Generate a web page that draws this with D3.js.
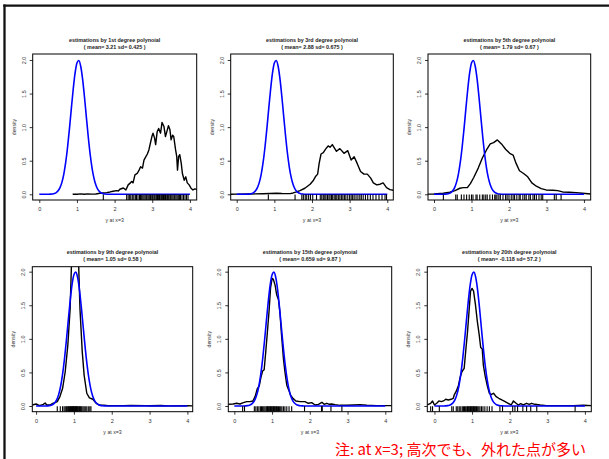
<!DOCTYPE html>
<html><head><meta charset="utf-8">
<script src="https://cdn.jsdelivr.net/npm/d3@7"></script>
<style>body{margin:0;background:#fff} svg{display:block}</style>
</head><body><svg id="chart" width="609" height="459"></svg>
<script>
// Panel titles and summary lines
const titles = [
  "estimations by 1st degree polynoial",
  "estimations by 3rd degree polynoial",
  "estimations by 5th degree polynoial",
  "estimations by 9th degree polynoial",
  "estimations by 15th degree polynoial",
  "estimations by 20th degree polynoial"
];
const subtitles = [
  "( mean= 3.21 sd= 0.425 )",
  "( mean= 2.88 sd= 0.675 )",
  "( mean= 1.79 sd= 0.67 )",
  "( mean= 1.05 sd= 0.58 )",
  "( mean= 0.659 sd= 9.87 )",
  "( mean= -0.118 sd= 57.2 )"
];
const xTicks = [0, 1, 2, 3, 4];
const yTicks = [0, 0.5, 1.0, 1.5, 2.0];
const xLabel = "y at x=3";
const yLabel = "density";
const note = "注: at x=3; 高次でも、外れた点が多い";

// True distribution of y at x=3 (blue reference density)
const trueX = [0, 0.25, 0.3, 0.35, 0.4, 0.45, 0.5, 0.55, 0.6, 0.65, 0.7, 0.75, 0.8, 0.85, 0.9, 0.95, 1.0, 1.05, 1.1, 1.15, 1.2, 1.25, 1.3, 1.35, 1.4, 1.45, 1.5, 1.55, 1.6, 1.65, 1.7, 1.75, 1.8, 1.85, 2.0, 4.0];
const trueY = [0, 0.0008, 0.002, 0.005, 0.012, 0.026, 0.052, 0.099, 0.177, 0.298, 0.470, 0.697, 0.971, 1.271, 1.561, 1.803, 1.955, 1.993, 1.907, 1.715, 1.449, 1.150, 0.857, 0.600, 0.395, 0.244, 0.142, 0.077, 0.040, 0.019, 0.009, 0.004, 0.0015, 0.0005, 0, 0];

// Kernel density of the estimates for each polynomial degree: [x, density]
const dens1 = [[0.886,0],[0.95,0.003],[1.0,0.001],[1.1,0.006],[1.2,0.001],[1.28,0.006],[1.4,0.002],[1.5,0.004],[1.61,0.015],[1.70,0.02],[1.79,0.025],[1.88,0.035],[1.96,0.045],[2.05,0.055],[2.10,0.05],[2.14,0.075],[2.23,0.094],[2.30,0.065],[2.36,0.14],[2.42,0.17],[2.45,0.19],[2.49,0.17],[2.54,0.29],[2.60,0.31],[2.65,0.36],[2.69,0.41],[2.74,0.39],[2.78,0.51],[2.83,0.56],[2.87,0.60],[2.91,0.66],[2.95,0.76],[2.99,0.86],[3.02,0.91],[3.06,0.84],[3.09,0.74],[3.13,0.93],[3.17,0.98],[3.22,0.91],[3.26,1.07],[3.31,1.01],[3.35,0.86],[3.40,0.96],[3.43,1.02],[3.47,0.96],[3.50,0.81],[3.54,0.88],[3.57,0.86],[3.62,0.66],[3.65,0.56],[3.67,0.36],[3.70,0.56],[3.73,0.59],[3.77,0.46],[3.80,0.31],[3.85,0.21],[3.89,0.26],[3.93,0.17],[3.98,0.14],[4.03,0.09],[4.08,0.065],[4.13,0.08],[4.2,0.07]];
const dens2 = [[-0.16,0.0],[0.0,0.002],[0.35,0.005],[0.7,0.008],[1.06,0.015],[1.2,0.012],[1.42,0.01],[1.5,0.02],[1.59,0.035],[1.68,0.055],[1.81,0.09],[1.95,0.15],[2.04,0.21],[2.10,0.27],[2.15,0.30],[2.19,0.46],[2.24,0.60],[2.30,0.62],[2.37,0.68],[2.43,0.72],[2.48,0.70],[2.54,0.74],[2.65,0.64],[2.74,0.68],[2.85,0.61],[2.95,0.65],[3.04,0.51],[3.12,0.56],[3.20,0.46],[3.29,0.34],[3.38,0.30],[3.47,0.30],[3.56,0.24],[3.63,0.17],[3.72,0.14],[3.81,0.15],[3.89,0.17],[3.98,0.10],[4.07,0.07],[4.16,0.06]];
const dens3 = [[-0.16,0.002],[0.0,0.005],[0.25,0.015],[0.42,0.03],[0.56,0.055],[0.69,0.09],[0.78,0.10],[0.89,0.10],[0.97,0.16],[1.06,0.25],[1.18,0.39],[1.29,0.54],[1.40,0.66],[1.50,0.75],[1.59,0.77],[1.69,0.81],[1.80,0.75],[1.91,0.67],[2.02,0.61],[2.11,0.585],[2.19,0.46],[2.28,0.35],[2.39,0.31],[2.50,0.26],[2.61,0.17],[2.73,0.12],[2.86,0.085],[2.99,0.065],[3.17,0.06],[3.30,0.055],[3.43,0.035],[3.61,0.03],[3.79,0.025],[3.96,0.015],[4.18,0.004]];
const dens4 = [[-0.1,0.015],[0.0,0.03],[0.09,0.005],[0.19,0.025],[0.24,0.045],[0.28,0.015],[0.37,0.015],[0.44,0.04],[0.50,0.05],[0.56,0.065],[0.63,0.14],[0.70,0.26],[0.77,0.51],[0.84,0.91],[0.90,1.45],[0.94,2.2],[0.98,2.6],[1.03,2.75],[1.08,2.6],[1.12,2.2],[1.16,1.45],[1.22,0.81],[1.27,0.46],[1.34,0.19],[1.41,0.12],[1.50,0.10],[1.59,0.04],[1.69,0.01],[1.8,0.012],[1.9,0.005],[2.0,0.006],[2.3,0.006],[2.5,0.008],[2.9,0.006],[3.0,0.003],[3.3,0.007],[3.5,0.002],[4.0,0.004],[4.14,0.002]];
const dens5 = [[-0.16,0.025],[-0.03,0.03],[0.06,0.04],[0.15,0.03],[0.24,0.05],[0.33,0.065],[0.42,0.065],[0.49,0.075],[0.55,0.14],[0.61,0.26],[0.66,0.30],[0.71,0.44],[0.75,0.52],[0.79,0.54],[0.83,0.79],[0.87,1.06],[0.92,1.41],[0.96,1.76],[1.00,1.90],[1.03,1.89],[1.08,1.80],[1.12,1.66],[1.17,1.58],[1.21,1.38],[1.25,1.06],[1.30,0.71],[1.34,0.51],[1.39,0.31],[1.44,0.24],[1.49,0.16],[1.56,0.11],[1.63,0.075],[1.74,0.065],[1.87,0.065],[1.96,0.04],[2.05,0.05],[2.14,0.015],[2.23,0.025],[2.32,0.055],[2.38,0.025],[2.45,0.04],[2.52,0.025],[2.58,0.03],[2.67,0.02],[2.80,0.01],[2.98,0.01],[3.15,0.015],[3.33,0.02],[3.51,0.01],[3.77,0.005],[4.17,0.005]];
const dens6 = [[-0.19,0.015],[-0.1,0.04],[-0.05,0.075],[0.0,0.015],[0.06,0.04],[0.12,0.075],[0.18,0.065],[0.24,0.075],[0.30,0.10],[0.37,0.09],[0.44,0.10],[0.50,0.115],[0.53,0.17],[0.58,0.22],[0.64,0.31],[0.68,0.42],[0.73,0.51],[0.79,0.56],[0.83,0.81],[0.88,1.11],[0.92,1.41],[0.96,1.71],[1.00,1.75],[1.04,1.71],[1.09,1.51],[1.14,1.26],[1.19,1.06],[1.23,0.87],[1.27,0.85],[1.30,0.61],[1.35,0.44],[1.41,0.29],[1.46,0.19],[1.51,0.17],[1.57,0.19],[1.64,0.14],[1.71,0.115],[1.79,0.09],[1.88,0.065],[1.96,0.04],[2.04,0.015],[2.10,0.075],[2.17,0.04],[2.23,0.015],[2.29,0.035],[2.36,0.015],[2.45,0.04],[2.52,0.025],[2.58,0.04],[2.67,0.025],[2.81,0.015],[2.98,0.005],[3.34,0.005],[3.69,0.005],[3.96,0.01],[4.17,0.005]];

// Individual estimates (rug marks)
const rug1 = [1.70,2.32,2.36,2.40,2.43,2.47,2.51,2.55,2.58,2.62,2.66,2.69,2.72,2.75,2.78,2.81,2.84,2.86,2.89,2.92,2.95,2.97,3.00,3.02,3.05,3.07,3.10,3.12,3.14,3.17,3.19,3.21,3.24,3.26,3.28,3.30,3.33,3.35,3.37,3.40,3.42,3.44,3.47,3.49,3.52,3.55,3.58,3.60,3.63,3.66,3.69,3.72,3.75,3.79,3.83,3.87,3.91,3.95];
const rug2 = [0.84,1.55,1.73,1.77,1.82,1.86,1.91,1.96,2.02,2.12,2.22,2.26,2.30,2.34,2.37,2.41,2.45,2.48,2.52,2.55,2.59,2.63,2.66,2.70,2.74,2.78,2.82,2.86,2.90,2.95,3.00,3.04,3.08,3.12,3.17,3.22,3.27,3.31,3.36,3.42,3.48,3.55,3.62,3.70,3.78,3.86,3.94,3.98];
const rug3 = [0.25,0.58,0.62,0.73,0.80,0.87,0.94,1.00,1.04,1.12,1.15,1.22,1.29,1.33,1.38,1.42,1.49,1.56,1.62,1.65,1.68,1.73,1.77,1.84,1.91,1.95,2.00,2.06,2.11,2.15,2.21,2.27,2.30,2.37,2.42,2.46,2.53,2.57,2.64,2.68,2.73,2.80,2.86,2.90,3.21,3.26,3.39];
const rug4 = [0.56,0.64,0.70,0.74,0.77,0.80,0.82,0.84,0.86,0.88,0.90,0.91,0.93,0.94,0.96,0.97,0.99,1.00,1.01,1.03,1.04,1.05,1.07,1.08,1.10,1.11,1.13,1.15,1.17,1.19,1.21,1.24,1.27,1.30,1.34,1.38,1.42,1.45];
const rug5 = [0.22,0.27,0.53,0.57,0.61,0.65,0.69,0.72,0.75,0.78,0.81,0.84,0.86,0.88,0.90,0.92,0.94,0.96,0.98,1.00,1.02,1.04,1.06,1.08,1.10,1.12,1.14,1.17,1.20,1.23,1.26,1.30,1.34,1.39,1.45,1.52,1.86,2.31,2.33,2.56,2.85];
const rug6 = [-0.10,-0.05,0.13,0.46,0.50,0.58,0.62,0.66,0.70,0.74,0.77,0.80,0.83,0.86,0.88,0.90,0.92,0.94,0.96,0.98,1.00,1.02,1.04,1.06,1.08,1.10,1.12,1.15,1.18,1.21,1.25,1.29,1.34,1.40,1.46,1.53,1.74,1.81,2.08,2.14,2.21,2.35,2.45,2.56,2.72,3.74];

const densities = [dens1, dens2, dens3, dens4, dens5, dens6];
const rugs = [rug1, rug2, rug3, rug4, rug5, rug6];

// Plot-region geometry for the 2 x 3 grid
const frames = [
  {left: 32.7,  right: 196.7, top: 54,    bottom: 200,   xDomain: [-0.175, 4.18], yDomain: [-0.085, 2.089]},
  {left: 230.7, right: 393.3, top: 54,    bottom: 200,   xDomain: [-0.16, 4.16],  yDomain: [-0.085, 2.089]},
  {left: 428,   right: 590.7, top: 54,    bottom: 200,   xDomain: [-0.16, 4.18],  yDomain: [-0.085, 2.089]},
  {left: 32.3,  right: 192.7, top: 266.7, bottom: 411.7, xDomain: [-0.1, 4.14],   yDomain: [-0.085, 2.074]},
  {left: 228.3, right: 391.7, top: 266.7, bottom: 411.7, xDomain: [-0.16, 4.17],  yDomain: [-0.085, 2.074]},
  {left: 427.3, right: 591.3, top: 266.7, bottom: 411.7, xDomain: [-0.19, 4.17],  yDomain: [-0.085, 2.074]}
];

const svg = d3.select("#chart");
svg.append("rect").attr("width", 609).attr("height", 459).attr("fill", "#fff");

// Frame around the slide
svg.append("line").attr("x1", 3.3).attr("x2", 609).attr("y1", 5.7).attr("y2", 5.7)
  .attr("stroke", "#111").attr("stroke-width", 2.2);
svg.append("line").attr("x1", 4.5).attr("x2", 4.5).attr("y1", 4.6).attr("y2", 459)
  .attr("stroke", "#111").attr("stroke-width", 2.3);

const font = "'Liberation Sans', Arial, Helvetica, sans-serif";

frames.forEach((f, i) => {
  const x = d3.scaleLinear().domain(f.xDomain).range([f.left, f.right]);
  const y = d3.scaleLinear().domain(f.yDomain).range([f.bottom, f.top]);
  const g = svg.append("g");
  const cx = (f.left + f.right) / 2;
  const cy = (f.top + f.bottom) / 2;

  const clipId = "clip" + i;
  svg.append("clipPath").attr("id", clipId).append("rect")
    .attr("x", f.left).attr("y", f.top)
    .attr("width", f.right - f.left).attr("height", f.bottom - f.top);

  const plot = g.append("g").attr("clip-path", `url(#${clipId})`);

  // estimated density
  plot.append("path")
    .datum(densities[i])
    .attr("fill", "none").attr("stroke", "#000").attr("stroke-width", 1.4)
    .attr("stroke-linejoin", "round")
    .attr("d", d3.line().x(d => x(d[0])).y(d => y(d[1])));

  // true density
  plot.append("path")
    .datum(trueX.map((v, k) => [v, trueY[k]]))
    .attr("fill", "none").attr("stroke", "#0000ff").attr("stroke-width", 1.6)
    .attr("d", d3.line().curve(d3.curveMonotoneX).x(d => x(d[0])).y(d => y(d[1])));

  // rug of individual estimates
  plot.selectAll("line.rug").data(rugs[i]).join("line")
    .attr("class", "rug")
    .attr("x1", d => x(d)).attr("x2", d => x(d))
    .attr("y1", f.bottom).attr("y2", f.bottom - 5.5)
    .attr("stroke", "#000").attr("stroke-width", 1.1);

  // box
  g.append("rect")
    .attr("x", f.left).attr("y", f.top)
    .attr("width", f.right - f.left).attr("height", f.bottom - f.top)
    .attr("fill", "none").attr("stroke", "#000").attr("stroke-width", 1);

  // x axis
  const xa = g.append("g").attr("transform", `translate(0,${f.bottom})`)
    .call(d3.axisBottom(x).tickValues(xTicks).tickSize(3).tickFormat(d3.format("d")));
  xa.select(".domain").remove();
  xa.selectAll(".tick line").attr("stroke", "#000").attr("stroke-width", 0.8);
  xa.selectAll(".tick text").attr("y", 7).attr("dy", "0.71em")
    .attr("font-family", font).attr("font-size", 5.5).attr("fill", "#333");

  // y axis
  const ya = g.append("g").attr("transform", `translate(${f.left},0)`)
    .call(d3.axisLeft(y).tickValues(yTicks).tickSize(3).tickFormat(d3.format(".1f")));
  ya.select(".domain").remove();
  ya.selectAll(".tick line").attr("stroke", "#000").attr("stroke-width", 0.8);
  ya.selectAll(".tick text")
    .attr("x", null).attr("dy", null)
    .attr("text-anchor", "middle").attr("dominant-baseline", "central")
    .attr("transform", "translate(-9,0) rotate(-90)")
    .attr("font-family", font).attr("font-size", 5.5).attr("fill", "#333");

  // axis titles
  g.append("text").attr("x", cx).attr("y", f.bottom + 20)
    .attr("text-anchor", "middle").attr("dominant-baseline", "central")
    .attr("font-family", font).attr("font-size", 5.2).attr("fill", "#333")
    .text(xLabel);
  g.append("text")
    .attr("transform", `translate(${f.left - 19},${cy}) rotate(-90)`)
    .attr("text-anchor", "middle").attr("dominant-baseline", "central")
    .attr("font-family", font).attr("font-size", 5.2).attr("fill", "#333")
    .text(yLabel);

  // panel title
  g.append("text").attr("x", cx).attr("y", f.top - 14.5)
    .attr("text-anchor", "middle").attr("dominant-baseline", "central")
    .attr("font-family", font).attr("font-size", 5.4).attr("font-weight", "bold").attr("fill", "#222")
    .text(titles[i]);
  g.append("text").attr("x", cx).attr("y", f.top - 7.3)
    .attr("text-anchor", "middle").attr("dominant-baseline", "central")
    .attr("font-family", font).attr("font-size", 5.4).attr("font-weight", "bold").attr("fill", "#222")
    .text(subtitles[i]);
});

// red note
svg.append("text").attr("x", 335).attr("y", 448)
  .attr("dominant-baseline", "central")
  .attr("font-family", "'Noto Sans CJK JP', 'Noto Sans', sans-serif")
  .attr("font-size", 15).attr("fill", "#ff0000")
  .text(note);
</script></body></html>
